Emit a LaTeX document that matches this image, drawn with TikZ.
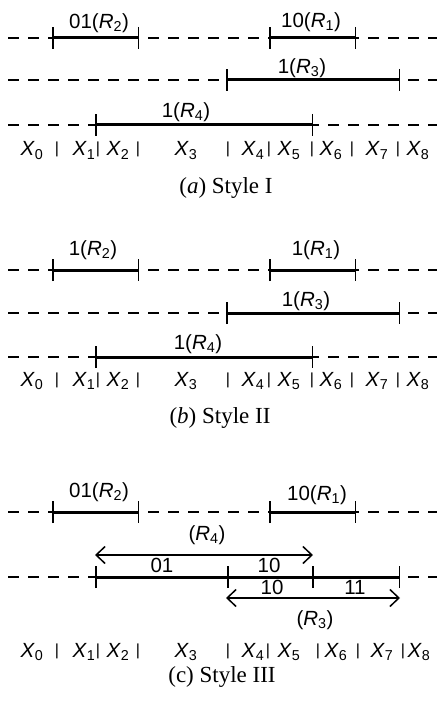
\documentclass[tikz,border=0pt]{standalone}
\usepackage{fontspec}
\setmainfont{Liberation Serif}
\setsansfont{Liberation Sans}
\usetikzlibrary{arrows.meta}

\newcommand{\rr}[1]{\textit{R}\textsubscript{#1}}
\newcommand{\xx}[1]{\textit{X}\textsubscript{#1}}

\begin{document}
\begin{tikzpicture}[
    x=1pt, y=-1pt,
    dashline/.style={line width=1.5pt, dash pattern=on 11pt off 9pt},
    seg/.style={
        line width=3pt,
        {Bar[width=22pt,line width=1.5pt]}-{Bar[width=22pt,line width=1.5pt]}
    },
    tick/.style={line width=1.5pt},
    span/.style={
        line width=1.5pt,
        {Straight Barb[length=9pt,width=17pt]}-{Straight Barb[length=9pt,width=17pt]}
    },
    lbl/.style={inner sep=0pt, font=\sffamily\fontsize{20.5}{24}\selectfont},
    xlbl/.style={lbl, anchor=base},
    sep/.style={inner sep=0pt, anchor=base, font=\sffamily\fontsize{16}{16}\selectfont},
    caption/.style={inner sep=0pt, font=\fontsize{23}{27}\selectfont}
]
    \useasboundingbox (0,0) rectangle (436,703);

    % (a) Style I
    \coordinate (a1s) at (8,38);   \coordinate (a1e) at (440,38);
    \coordinate (a2s) at (8,80);   \coordinate (a2e) at (440,80);
    \coordinate (a3s) at (8,125);  \coordinate (a3e) at (440,125);
    \draw[dashline] (a1s) -- (a1e);
    \draw[dashline] (a2s) -- (a2e);
    \draw[dashline] (a3s) -- (a3e);

    \coordinate (aR2l) at (52,38);  \coordinate (aR2r) at (139,38);
    \coordinate (aR1l) at (269,38); \coordinate (aR1r) at (356,38);
    \coordinate (aR3l) at (226,80); \coordinate (aR3r) at (400,80);
    \coordinate (aR4l) at (95,125); \coordinate (aR4r) at (313,125);
    \draw[seg] (aR2l) -- (aR2r);
    \draw[seg] (aR1l) -- (aR1r);
    \draw[seg] (aR3l) -- (aR3r);
    \draw[seg] (aR4l) -- (aR4r);

    \node[lbl] (aR2) at (99,23)  {01(\rr{2})};
    \node[lbl] (aR1) at (311,22) {10(\rr{1})};
    \node[lbl] (aR3) at (302,68) {1(\rr{3})};
    \node[lbl] (aR4) at (186,112) {1(\rr{4})};

    \foreach \i/\px in {0/32,1/84,2/118,3/186,4/253,5/289,6/331,7/377,8/418}
        \node[xlbl] (ax\i) at (\px,156) {\xx{\i}};
    \foreach \j/\px in {1/57,2/98,3/138,4/228,5/269,6/312,7/352,8/398}
        \node[sep] (asep\j) at (\px,154) {|};

    \node[caption] (capa) at (226,188) {(\textit{a}) Style I};

    % (b) Style II
    \coordinate (b1s) at (8,270);  \coordinate (b1e) at (440,270);
    \coordinate (b2s) at (8,313);  \coordinate (b2e) at (440,313);
    \coordinate (b3s) at (8,357);  \coordinate (b3e) at (440,357);
    \draw[dashline] (b1s) -- (b1e);
    \draw[dashline] (b2s) -- (b2e);
    \draw[dashline] (b3s) -- (b3e);

    \coordinate (bR2l) at (52,270);  \coordinate (bR2r) at (139,270);
    \coordinate (bR1l) at (269,270); \coordinate (bR1r) at (356,270);
    \coordinate (bR3l) at (226,313); \coordinate (bR3r) at (400,313);
    \coordinate (bR4l) at (95,357);  \coordinate (bR4r) at (313,357);
    \draw[seg] (bR2l) -- (bR2r);
    \draw[seg] (bR1l) -- (bR1r);
    \draw[seg] (bR3l) -- (bR3r);
    \draw[seg] (bR4l) -- (bR4r);

    \node[lbl] (bR2) at (93,250)  {1(\rr{2})};
    \node[lbl] (bR1) at (316,250) {1(\rr{1})};
    \node[lbl] (bR3) at (306,301) {1(\rr{3})};
    \node[lbl] (bR4) at (198,344) {1(\rr{4})};

    \foreach \i/\px in {0/32,1/84,2/118,3/186,4/253,5/289,6/331,7/377,8/418}
        \node[xlbl] (bx\i) at (\px,386) {\xx{\i}};
    \foreach \j/\px in {1/57,2/98,3/138,4/228,5/269,6/312,7/352,8/398}
        \node[sep] (bsep\j) at (\px,384) {|};

    \node[caption] (capb) at (220,418) {(\textit{b}) Style II};

    % (c) Style III
    \coordinate (c1s) at (8,512);  \coordinate (c1e) at (440,512);
    \coordinate (c2s) at (8,577);  \coordinate (c2e) at (440,577);
    \draw[dashline] (c1s) -- (c1e);
    \draw[dashline] (c2s) -- (c2e);

    \coordinate (cR2l) at (52,512);  \coordinate (cR2r) at (139,512);
    \coordinate (cR1l) at (269,512); \coordinate (cR1r) at (356,512);
    \draw[seg] (cR2l) -- (cR2r);
    \draw[seg] (cR1l) -- (cR1r);

    \coordinate (ct1) at (95,577);  \coordinate (ct2) at (228,577);
    \coordinate (ct3) at (313,577); \coordinate (ct4) at (400,577);
    \draw[seg] (ct1) -- (ct4);
    \draw[tick] (ct2) ++(0,-11) -- ++(0,22);
    \draw[tick] (ct3) ++(0,-11) -- ++(0,22);

    \coordinate (cR4l) at (95,555);  \coordinate (cR4r) at (313,555);
    \coordinate (cR3l) at (226,598); \coordinate (cR3r) at (400,598);
    \draw[span] (cR4l) -- (cR4r);
    \draw[span] (cR3l) -- (cR3r);

    \node[lbl] (cR2) at (99,492)  {01(\rr{2})};
    \node[lbl] (cR1) at (317,495) {10(\rr{1})};
    \node[lbl] (cR4) at (207,535) {(\rr{4})};
    \node[lbl] (cc01) at (162,565) {01};
    \node[lbl] (cc10a) at (269,565) {10};
    \node[lbl] (cc10b) at (272,587) {10};
    \node[lbl] (cc11) at (355,587) {11};
    \node[lbl] (cR3) at (315,620) {(\rr{3})};

    \foreach \i/\px in {0/32,1/84,2/118,3/186,4/253,5/289,6/336,7/382,8/419}
        \node[xlbl] (cx\i) at (\px,657) {\xx{\i}};
    \foreach \j/\px in {1/57,2/98,3/138,4/228,5/268,6/318,7/358,8/403}
        \node[sep] (csep\j) at (\px,655) {|};

    \node[caption] (capc) at (222,677) {(c) Style III};
\end{tikzpicture}
\end{document}
